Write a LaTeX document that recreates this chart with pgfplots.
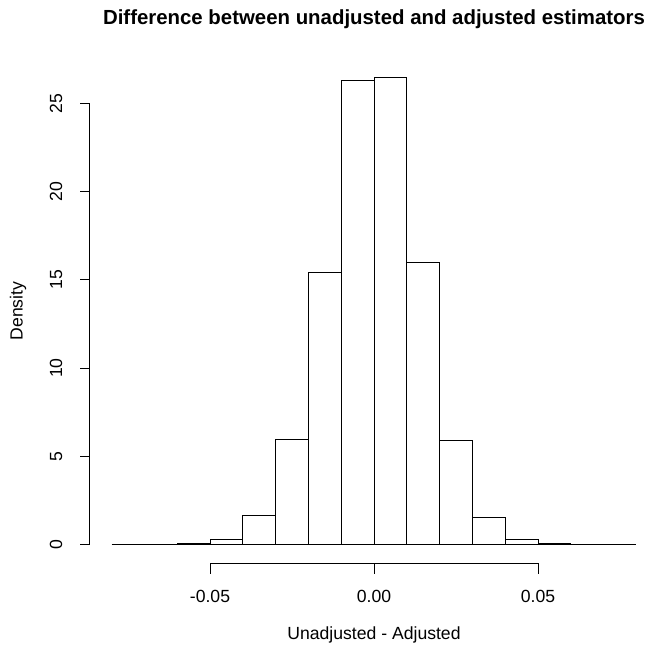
\documentclass[border=0pt]{standalone}
\usepackage{pgfplots}
\pgfplotsset{compat=1.18}
\usepackage{fontspec}
\setmainfont{Liberation Sans}
\begin{document}
\begin{tikzpicture}[x=1pt,y=1pt]
\begin{axis}[
  at={(111.6pt,82.45pt)}, anchor=south west,
  scale only axis, width=524.8pt, height=504.15pt,
  xmin=-0.08, xmax=0.08, ymin=-1.08, ymax=27.5,
  hide axis, clip=false,
]
\addplot[ybar interval, fill=white, draw=black, line width=1pt] coordinates {
(-0.06,0.05) (-0.05,0.28) (-0.04,1.63) (-0.03,5.98) (-0.02,15.41) (-0.01,26.33)
(0,26.45) (0.01,15.98) (0.02,5.88) (0.03,1.53) (0.04,0.30) (0.05,0.05) (0.06,0.05)};
\draw[line width=1pt] (axis cs:-0.08,0) -- (axis cs:0.08,0);
% y axis
\draw[line width=1pt] (axis cs:-0.08659,0) -- (axis cs:-0.08659,25);
\pgfplotsinvokeforeach{0,5,10,15,20,25}{
  \draw[line width=1pt] (axis cs:-0.08659,#1) -- (axis cs:-0.08963,#1);
  \node[rotate=90, anchor=base, inner sep=0pt, font=\fontsize{17.6}{20}\selectfont] at (axis cs:-0.09512,#1) {#1};
}
% x axis
\draw[line width=1pt] (axis cs:-0.05,-1.066) -- (axis cs:0.05,-1.066);
\draw[line width=1pt] (axis cs:-0.05,-1.066) -- (axis cs:-0.05,-1.644);
\draw[line width=1pt] (axis cs:0,-1.066) -- (axis cs:0,-1.644);
\draw[line width=1pt] (axis cs:0.05,-1.066) -- (axis cs:0.05,-1.644);
\node[anchor=base, inner sep=0pt, font=\fontsize{17.6}{20}\selectfont] at (axis cs:-0.05,-3.26) {-0.05};
\node[anchor=base, inner sep=0pt, font=\fontsize{17.6}{20}\selectfont] at (axis cs:0,-3.26) {0.00};
\node[anchor=base, inner sep=0pt, font=\fontsize{17.6}{20}\selectfont] at (axis cs:0.05,-3.26) {0.05};
\node[anchor=base, inner sep=0pt, font=\fontsize{17.6}{20}\selectfont] at (axis cs:0,-5.41) {Unadjusted - Adjusted};
\node[rotate=90, anchor=base, inner sep=0pt, font=\fontsize{17.6}{20}\selectfont] at (axis cs:-0.10716,13.24) {Density};
\node[anchor=base, inner sep=0pt, font=\fontsize{20.4}{24}\selectfont\bfseries] at (axis cs:0,29.45) {Difference between unadjusted and adjusted estimators};
\end{axis}
\pgfresetboundingbox
\useasboundingbox (0,0) rectangle (653,646);
\end{tikzpicture}
\end{document}
